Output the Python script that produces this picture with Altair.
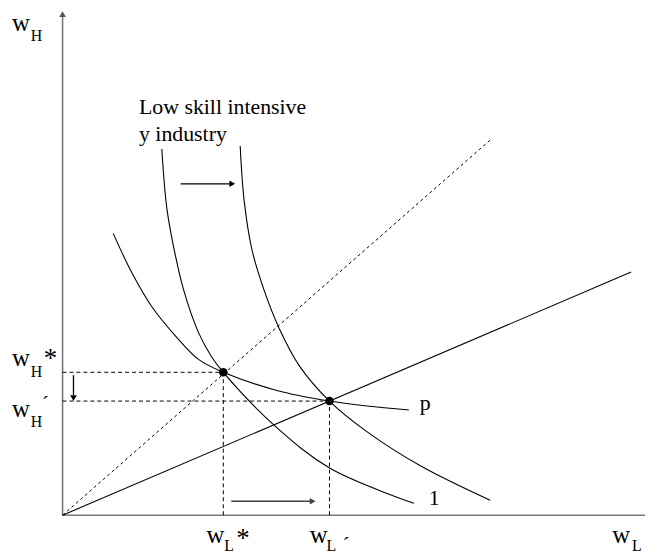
import altair as alt
import pandas as pd

# ---- data (units: arbitrary wage units) ----
X_MAX = 587
Y_MAX = 509

# iso-price curve "p"
p_x = [51, 70, 90, 117, 137, 162, 215, 269, 307, 349]
p_y = [284, 244, 210, 177, 157, 144, 126, 115, 110, 106]
# low skill intensive y industry, curve 1 (before shift)
y1_x = [100, 105, 112, 122, 137, 150, 162, 214, 270, 354]
y1_y = [369, 310, 270, 227, 184, 160, 144, 90, 47, 12]
# low skill intensive y industry, after shift
y2_x = [179, 183, 191, 203, 218, 239, 269, 307, 362, 431]
y2_y = [372, 317, 267, 227, 189, 150, 115, 84, 49, 15]

# equilibria (w_L, w_H): star and prime
eq_wl = [162, 269]
eq_wh = [144, 115]

# rays from origin (end points)
ray_dashed_end = (432, 379)
ray_solid_end = (573, 245)

xs = alt.Scale(domain=[0, X_MAX], nice=False, zero=False)
ys = alt.Scale(domain=[0, Y_MAX], nice=False, zero=False)
FONT = "Liberation Serif, Times New Roman, serif"


def X(f="x"):
    return alt.X(f"{f}:Q", scale=xs, axis=None)


def Y(f="y"):
    return alt.Y(f"{f}:Q", scale=ys, axis=None)


def curve(xv, yv):
    df = pd.DataFrame({"x": xv, "y": yv, "o": range(len(xv))})
    return alt.Chart(df).mark_line(
        color="black", strokeWidth=1.1, interpolate="catmull-rom", clip=False
    ).encode(x=X(), y=Y(), order="o:Q")


def rules(rows, **style):
    df = pd.DataFrame(rows, columns=["x", "y", "x2", "y2"])
    return alt.Chart(df).mark_rule(clip=False, **style).encode(
        x=X(), y=Y(), x2="x2:Q", y2="y2:Q"
    )


def heads(rows, color="black"):
    df = pd.DataFrame(rows, columns=["x", "y", "shape"])
    return alt.Chart(df).mark_point(
        filled=True, opacity=1, size=45, color=color, clip=False
    ).encode(
        x=X(), y=Y(),
        shape=alt.Shape("shape:N", scale=None, legend=None),
    )


def texts(rows, size):
    df = pd.DataFrame(rows, columns=["x", "y", "t"])
    return alt.Chart(df).mark_text(
        align="left", baseline="alphabetic", font=FONT, fontSize=size,
        color="black", clip=False
    ).encode(x=X(), y=Y(), text="t:N")


wl_s, wl_p = eq_wl
wh_s, wh_p = eq_wh

axes = rules([(0, 0, 0, 503), (0, 0, X_MAX, 0)], color="#7a7a7a", strokeWidth=1.6)
axis_head = heads([(0, 505, "triangle-up")], color="#555555")

guides = rules(
    [(0, wh_s, wl_s, wh_s), (0, wh_p, wl_p, wh_p),
     (wl_s, 0, wl_s, wh_s), (wl_p, 0, wl_p, wh_p)],
    color="black", strokeWidth=1, strokeDash=[4, 3],
)
ray_d = rules([(0, 0) + ray_dashed_end], color="black", strokeWidth=1, strokeDash=[3, 3])
ray_s = rules([(0, 0) + ray_solid_end], color="black", strokeWidth=1.1)

arrows_black = rules([(119, 334, 169, 334), (11, 141, 11, 121)], color="black", strokeWidth=1.3)
arrow_gray = rules([(170, 14, 250, 14)], color="#404040", strokeWidth=1.6)
arrow_heads = heads([(171, 334, "triangle-right"), (11, 118, "triangle-down")])
arrow_head_gray = heads([(252, 14, "triangle-right")], color="#404040")

dots_df = pd.DataFrame({"x": eq_wl, "y": eq_wh})
dots = alt.Chart(dots_df).mark_circle(size=75, color="black", opacity=1).encode(x=X(), y=Y())

big_w = texts([(-51, 488, "w"), (-51, 150, "w"), (-51, 99, "w"),
               (145, -28, "w"), (249, -28, "w"), (554, -28, "w")], 25)
subs = texts([(-32, 478, "H"), (-32, 139, "H"), (-32, 89, "H"),
              (163, -36, "L"), (266, -36, "L"), (574, -36, "L")], 16)
stars = texts([(-19, 149, "*"), (175, -32, "*")], 27)
primes = texts([(-21, 105, "´"), (282, -37, "´")], 22)
labels = texts([(77, 404, "Low skill intensive"), (77, 377, "y industry"),
                (360, 106, "p"), (369, 10, "1")], 22)

chart = alt.layer(
    axes, axis_head, guides, ray_d, ray_s,
    curve(p_x, p_y), curve(y1_x, y1_y), curve(y2_x, y2_y),
    dots, arrows_black, arrow_gray, arrow_heads, arrow_head_gray,
    big_w, subs, stars, primes, labels,
).properties(
    width=X_MAX, height=Y_MAX,
    autosize=alt.AutoSizeParams(type="none"),
    padding={"left": 55, "top": 0, "right": 0, "bottom": 40},
    background="white",
).configure_view(stroke=None)

chart.save("out.html", embed_options={"renderer": "svg", "actions": False})
